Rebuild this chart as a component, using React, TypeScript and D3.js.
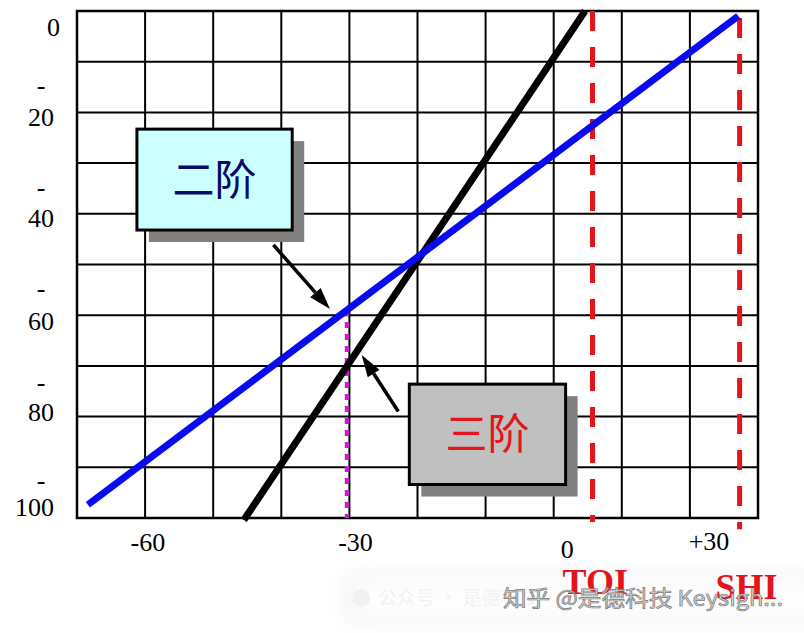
import React from "react";
import * as d3 from "d3";

const W = 804;
const H = 633;

// grid (input power, output power)
const gridX = d3.range(-70, 31, 10);
const gridY = d3.range(0, -101, -10);

// tick labels and where they sit (domain units)
const xLabels = ["-60", "-30", "0", "+30"];
const xLabelAt = [-59.6, -29.1, 2.0, 22.8];
const xLabelBase = [-106.6, -106.6, -107.9, -106.4];

const yLabels = ["0", "-20", "-40", "-60", "-80", "-100"];
const yNumBase = [-5.0, -22.68, -42.6, -62.9, -80.9, -99.6];
const yDashBase = [NaN, -16.3, -36.4, -56.5, -74.9, -94.2];

// responses
const secondOrder = [
  { x: -68.4, y: -97.4 },
  { x: 27.1, y: -1.0 },
];
const thirdOrder = [
  { x: -45.5, y: -100.4 },
  { x: 4.6, y: 0 },
];
const markerX = -30.35;
const toi = { x: 5.7, y0: 0, y1: -100.8, label: "TOI", labelX: 6.1, labelY: -114.9 };
const shi = { x: 27.3, y0: -1.4, y1: -102.2, label: "SHI", labelX: 28.3, labelY: -115.9 };

// annotation boxes
const boxes = [
  { text: "二阶", x0: -61.2, x1: -38.4, y0: -23.3, y1: -43.2, fill: "#ccffff", color: "#0a0a66" },
  { text: "三阶", x0: -21.2, x1: 1.75, y0: -73.6, y1: -93.4, fill: "#c0c0c0", color: "#e3141c" },
];
const arrows = [
  { from: [-41.15, -46.15], to: [-32.85, -58.8] },
  { from: [-22.82, -79.0], to: [-28.2, -67.85] },
];

const watermark = "知乎 @是德科技 Keysigh...";
const watermarkFaint = "公众号 · 是德科技";

export default function App() {
  const x = d3.scaleLinear().domain([-70, 30]).range([77, 758]);
  const y = d3.scaleLinear().domain([0, -100]).range([11, 518]);
  const line = d3
    .line<{ x: number; y: number }>()
    .x((d) => x(d.x))
    .y((d) => y(d.y));

  const blueAt = d3
    .scaleLinear()
    .domain(secondOrder.map((d) => d.x))
    .range(secondOrder.map((d) => d.y));
  const magentaTop = blueAt(markerX);

  const serif = "'Liberation Serif', 'Times New Roman', serif";
  const cjk = "'Noto Sans CJK SC', sans-serif";

  return (
    <svg
      width={W}
      height={H}
      style={{ position: "absolute", left: 0, top: 0, display: "block", background: "#fff" }}
    >
      <defs>
        <filter id="haze" x="-20%" y="-80%" width="140%" height="260%">
          <feGaussianBlur stdDeviation="10" />
        </filter>
      </defs>
      <rect width={W} height={H} fill="#fff" />

      {/* grid */}
      <g stroke="#000" strokeWidth={2}>
        {gridX.map((v) => (
          <line key={"gx" + v} x1={x(v)} x2={x(v)} y1={y(0)} y2={y(-100)} />
        ))}
        {gridY.map((v) => (
          <line key={"gy" + v} x1={x(-70)} x2={x(30)} y1={y(v)} y2={y(v)} />
        ))}
      </g>
      <rect
        x={x(-70)}
        y={y(0)}
        width={x(30) - x(-70)}
        height={y(-100) - y(0)}
        fill="none"
        stroke="#000"
        strokeWidth={2.5}
      />

      {/* y labels */}
      <g fontFamily={serif} fontSize={26} fill="#000">
        {yLabels.map((t, i) => {
          const num = t.replace("-", "");
          return (
            <g key={"yl" + i}>
              {t.startsWith("-") && (
                <text x={41} y={y(yDashBase[i])} textAnchor="middle">
                  -
                </text>
              )}
              <text x={i === 0 ? 60 : 54} y={y(yNumBase[i])} textAnchor="end">
                {num}
              </text>
            </g>
          );
        })}
      </g>

      {/* x labels */}
      <g fontFamily={serif} fontSize={26} fill="#000">
        {xLabels.map((t, i) => (
          <text key={"xl" + i} x={x(xLabelAt[i])} y={y(xLabelBase[i])} textAnchor="middle">
            {t}
          </text>
        ))}
      </g>

      {/* magenta marker */}
      <line
        x1={x(markerX)}
        x2={x(markerX)}
        y1={y(magentaTop)}
        y2={y(-100)}
        stroke="#c81ed2"
        strokeWidth={4.5}
        strokeDasharray="6 6"
      />

      {/* red limits */}
      {[toi, shi].map((r) => (
        <line
          key={r.label}
          x1={x(r.x)}
          x2={x(r.x)}
          y1={y(r.y0)}
          y2={y(r.y1)}
          stroke="#e3141c"
          strokeWidth={5}
          strokeDasharray="20 16"
        />
      ))}

      {/* responses */}
      <path d={line(thirdOrder) || ""} stroke="#000" strokeWidth={7} fill="none" />
      <path d={line(secondOrder) || ""} stroke="#0a0af0" strokeWidth={7} fill="none" />

      {/* boxes */}
      {boxes.map((b) => {
        const bx = x(b.x0);
        const by = y(b.y0);
        const bw = x(b.x1) - x(b.x0);
        const bh = y(b.y1) - y(b.y0);
        return (
          <g key={b.text}>
            <rect x={bx + 12} y={by + 12} width={bw} height={bh} fill="#808080" />
            <rect x={bx} y={by} width={bw} height={bh} fill={b.fill} stroke="#000" strokeWidth={3} />
            <text
              x={bx + bw / 2}
              y={by + bh / 2 + 15}
              textAnchor="middle"
              fontFamily={cjk}
              fontSize={42}
              fill={b.color}
            >
              {b.text}
            </text>
          </g>
        );
      })}

      {/* arrows */}
      {arrows.map((a, i) => {
        const x1 = x(a.from[0]);
        const y1 = y(a.from[1]);
        const x2 = x(a.to[0]);
        const y2 = y(a.to[1]);
        const ang = Math.atan2(y2 - y1, x2 - x1);
        const L = 22;
        const hw = 7;
        const bxp = x2 - L * Math.cos(ang);
        const byp = y2 - L * Math.sin(ang);
        const px = -Math.sin(ang) * hw;
        const py = Math.cos(ang) * hw;
        return (
          <g key={"ar" + i}>
            <line x1={x1} y1={y1} x2={bxp} y2={byp} stroke="#000" strokeWidth={3.5} />
            <polygon
              points={`${x2},${y2} ${bxp + px},${byp + py} ${bxp - px},${byp - py}`}
              fill="#000"
            />
          </g>
        );
      })}

      {/* watermark haze */}
      <rect x={345} y={574} width={480} height={48} fill="#000" opacity={0.06} filter="url(#haze)" />
      <rect x={352} y={576} width={470} height={44} fill="#fff" opacity={0.92} filter="url(#haze)" />

      {/* red limit labels */}
      {[toi, shi].map((r) => (
        <text
          key={"lab" + r.label}
          x={x(r.labelX)}
          y={y(r.labelY)}
          textAnchor="middle"
          fontFamily={serif}
          fontWeight="bold"
          fontSize={36}
          fill="#e3141c"
        >
          {r.label}
        </text>
      ))}

      {/* watermark text */}
      <circle cx={361} cy={598} r={9} fill="#f1f1f1" />
      <text x={378} y={605} fontFamily={cjk} fontSize={19} fill="#f2f2f2">
        {watermarkFaint}
      </text>
      <text
        x={503}
        y={606}
        fontFamily={cjk}
        fontSize={22}
        fill="#d4d4d4"
        stroke="#7a7a7a"
        strokeWidth={0.7}
        textLength={280}
        lengthAdjust="spacingAndGlyphs"
      >
        {watermark}
      </text>
    </svg>
  );
}
